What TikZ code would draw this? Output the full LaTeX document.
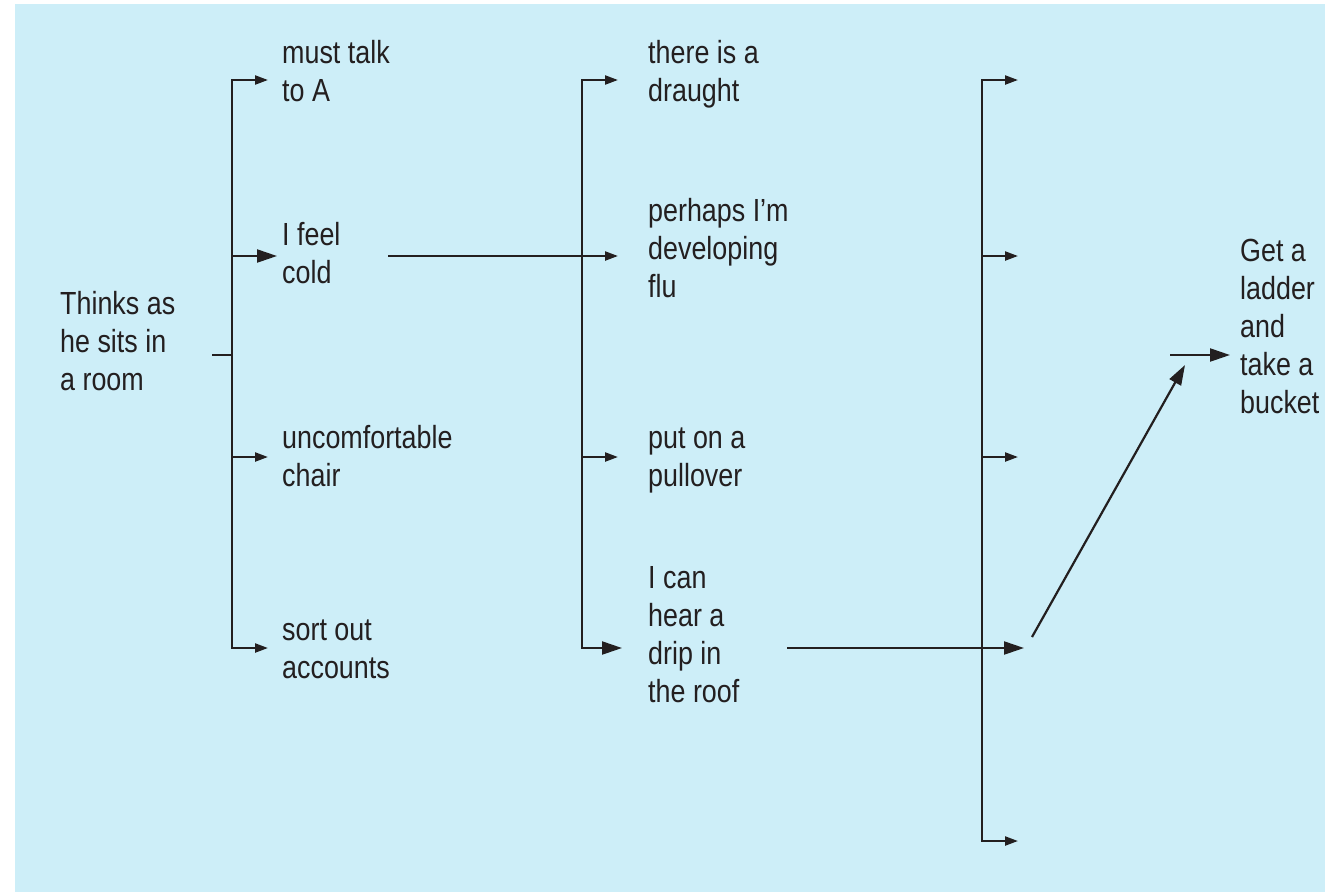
\documentclass[tikz,border=0pt]{standalone}
\usepackage{fontspec}
\setmainfont{Liberation Sans}[FakeStretch=0.84]
\usetikzlibrary{arrows.meta}
\definecolor{panel}{RGB}{205,238,248}
\definecolor{ink}{RGB}{35,31,32}
\newcommand{\stack}[1]{\begin{tabular}[t]{@{}l@{}}#1\end{tabular}}
\tikzset{
  txt/.style={anchor=base west, inner sep=0pt, text=ink,
              font=\fontsize{32}{38}\selectfont},
  link/.style={draw=ink, line width=2.2pt},
  tipS/.style={link, -{Triangle[length=13pt,width=9pt]}},
  tipL/.style={link, -{Triangle[length=20pt,width=13pt]}},
}
\begin{document}
\begin{tikzpicture}[x=1pt,y=-1pt]
\useasboundingbox (0,0) rectangle (1335,892);
\fill[panel] (15,4) rectangle (1325,892);

% texts
\node[txt] (room)    at (60,314)   {\stack{Thinks as\\he sits in\\a room}};
\node[txt] (talk)    at (282,63)   {\stack{must talk\\to A}};
\node[txt] (cold)    at (282,245)  {\stack{I feel\\cold}};
\node[txt] (chair)   at (282,448)  {\stack{uncomfortable\\chair}};
\node[txt] (acc)     at (282,640)  {\stack{sort out\\accounts}};
\node[txt] (draught) at (648,63)   {\stack{there is a\\draught}};
\node[txt] (flu)     at (648,221)  {\stack{perhaps I'm\\developing\\flu}};
\node[txt] (pull)    at (648,448)  {\stack{put on a\\pullover}};
\node[txt] (drip)    at (648,588)  {\stack{I can\\hear a\\drip in\\the roof}};
\node[txt] (ladder)  at (1240,261) {\stack{Get a\\ladder\\and\\take a\\bucket}};

% first fan
\coordinate (s1) at (212,355);
\coordinate (j1) at (232,355);
\coordinate (a1) at (268,80);
\coordinate (b1) at (277,256);
\coordinate (c1) at (268,457);
\coordinate (d1) at (268,648);
\draw[link] (s1) -- (j1);
\draw[tipS] (j1) |- (a1);
\draw[tipS] (j1) |- (d1);
\draw[tipL] (j1 |- b1) -- (b1);
\draw[tipS] (j1 |- c1) -- (c1);

% second fan
\coordinate (j2) at (582,355);
\coordinate (a2) at (618,80);
\coordinate (b2) at (618,256);
\coordinate (c2) at (618,457);
\coordinate (d2) at (622,648);
\coordinate (coldout) at (388,256);
\draw[tipS] (j2) |- (a2);
\draw[tipL] (j2) |- (d2);
\draw[tipS] (coldout) -- (b2);
\draw[tipS] (j2 |- c2) -- (c2);

% third fan
\coordinate (j3) at (982,460);
\coordinate (a3) at (1018,80);
\coordinate (b3) at (1018,256);
\coordinate (c3) at (1018,457);
\coordinate (d3) at (1024,648);
\coordinate (e3) at (1018,841);
\coordinate (dripout) at (787,648);
\draw[tipS] (j3) |- (a3);
\draw[tipS] (j3) |- (e3);
\draw[tipS] (j3 |- b3) -- (b3);
\draw[tipS] (j3 |- c3) -- (c3);
\draw[tipL] (dripout) -- (d3);

% to the action
\coordinate (up0) at (1032,637);
\coordinate (up1) at (1185,365);
\coordinate (go0) at (1170,355);
\coordinate (go1) at (1230,355);
\draw[tipL] (up0) -- (up1);
\draw[tipL] (go0) -- (go1);
\end{tikzpicture}
\end{document}
